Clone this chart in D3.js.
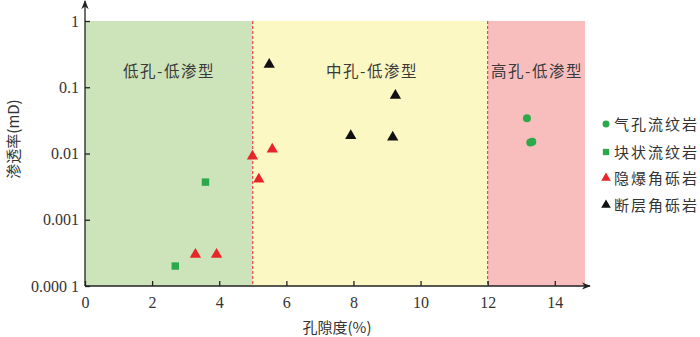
<!DOCTYPE html>
<html>
<head>
<meta charset="utf-8">
<script src="https://cdn.jsdelivr.net/npm/d3@7"></script>
<style>
  body { margin: 0; background: #fff; }
  text { font-family: "Liberation Serif", "Noto Sans CJK SC", serif; }
  .cjk { font-family: "Noto Sans CJK SC", sans-serif; }
</style>
</head>
<body>
<div id="chart"></div>
<script>
// porosity (%) vs permeability (mD) by rock type
const seriesNames = ["气孔流纹岩", "块状流纹岩", "隐爆角砾岩", "断层角砾岩"];
const seriesColors = ["#2ca94a", "#2ca94a", "#e8262a", "#111111"];
const seriesShapes = ["circle", "square", "triangle", "triangle"];

const vesicularRhyolite = [[13.17, 0.034], [13.27, 0.0146], [13.33, 0.015]];
const massiveRhyolite = [[2.69, 0.0002], [3.59, 0.0037]];
const cryptoBreccia = [[3.29, 0.0003], [3.92, 0.0003], [4.99, 0.0091], [5.18, 0.0041], [5.58, 0.0116]];
const faultBreccia = [[5.49, 0.22], [9.25, 0.075], [7.92, 0.0186], [9.17, 0.0176]];
const seriesData = [vesicularRhyolite, massiveRhyolite, cryptoBreccia, faultBreccia];

// porosity zones
const zoneBounds = [[0, 5], [5, 12], [12, 14.9]];
const zoneLabels = ["低孔-低渗型", "中孔-低渗型", "高孔-低渗型"];
const zoneColors = ["#cde3b9", "#fcf8c4", "#f8bebe"];

const xTicks = [0, 2, 4, 6, 8, 10, 12, 14];
const yTicks = [0.0001, 0.001, 0.01, 0.1, 1];
const yTickLabels = ["0.000 1", "0.001", "0.01", "0.1", "1"];

const width = 700, height = 337;
const margin = { left: 85, top: 21, bottom: 51 };

const svg = d3.select("#chart").append("svg")
  .attr("width", width)
  .attr("height", height);

const x = d3.scaleLinear().domain([0, 14.9]).range([margin.left, 585]);
const y = d3.scaleLog().domain([0.0001, 1]).range([height - margin.bottom, margin.top]);

// zone backgrounds
svg.append("g").selectAll("rect")
  .data(zoneBounds)
  .join("rect")
  .attr("x", d => x(d[0]))
  .attr("y", y(1))
  .attr("width", d => x(d[1]) - x(d[0]))
  .attr("height", y(0.0001) - y(1))
  .attr("fill", (d, i) => zoneColors[i]);

// dashed boundaries at 5 and 12
svg.append("g").selectAll("line")
  .data([5, 12])
  .join("line")
  .attr("x1", d => x(d)).attr("x2", d => x(d))
  .attr("y1", y(1)).attr("y2", y(0.0001))
  .attr("stroke", "#e8262a")
  .attr("stroke-width", 1)
  .attr("stroke-dasharray", "3,2");

// zone labels
svg.append("g").selectAll("text")
  .data(zoneBounds)
  .join("text")
  .attr("class", "cjk")
  .attr("x", (d, i) => [169, 372, 537][i])
  .attr("y", 77)
  .attr("text-anchor", "middle")
  .style("font-size", "15.5px")
  .style("letter-spacing", "1.5px")
  .attr("fill", "#3a3a3a")
  .text((d, i) => zoneLabels[i]);

// axes
const xAxis = d3.axisBottom(x).tickValues(xTicks).tickSizeInner(-5).tickSizeOuter(0).tickPadding(11);
const yAxis = d3.axisLeft(y).tickValues(yTicks).tickFormat((d, i) => yTickLabels[i])
  .tickSizeInner(-5).tickSizeOuter(0).tickPadding(6);

const gx = svg.append("g").attr("transform", `translate(0,${y(0.0001)})`).call(xAxis);
const gy = svg.append("g").attr("transform", `translate(${x(0)},0)`).call(yAxis);

[gx, gy].forEach(g => {
  g.select(".domain").remove();
  g.selectAll(".tick line").attr("stroke", "#222").attr("stroke-width", 1.3);
  g.selectAll(".tick text")
    .style("font-family", "Liberation Serif, serif")
    .style("font-size", "16px")
    .attr("fill", "#333");
});

// axis lines with arrows
svg.append("defs").append("marker")
  .attr("id", "arrow")
  .attr("viewBox", "0 0 10 10")
  .attr("refX", 9).attr("refY", 5)
  .attr("markerWidth", 7).attr("markerHeight", 7)
  .attr("orient", "auto")
  .append("path")
  .attr("d", "M0,1 L10,5 L0,9 L3,5 Z")
  .attr("fill", "#222");

svg.append("line")
  .attr("x1", x(0)).attr("x2", 590)
  .attr("y1", y(0.0001)).attr("y2", y(0.0001))
  .attr("stroke", "#222").attr("stroke-width", 1.3)
  .attr("marker-end", "url(#arrow)");

svg.append("line")
  .attr("x1", x(0)).attr("x2", x(0))
  .attr("y1", y(0.0001)).attr("y2", 1)
  .attr("stroke", "#222").attr("stroke-width", 1.3)
  .attr("marker-end", "url(#arrow)");

// axis titles
svg.append("text")
  .attr("class", "cjk")
  .attr("x", 337).attr("y", 333)
  .attr("text-anchor", "middle")
  .style("font-size", "15px")
  .attr("fill", "#333")
  .text("孔隙度(%)");

svg.append("text")
  .attr("class", "cjk")
  .attr("transform", "translate(19,139) rotate(-90)")
  .attr("text-anchor", "middle")
  .style("font-size", "15px")
  .attr("fill", "#333")
  .text("渗透率(mD)");

// marker shapes
const symbolFor = {
  circle: d3.symbol().type(d3.symbolCircle).size(50),
  square: d3.symbol().type(d3.symbolSquare).size(55),
  triangle: d3.symbol().type(d3.symbolTriangle).size(55)
};

seriesData.forEach((pts, i) => {
  svg.append("g").selectAll("path")
    .data(pts)
    .join("path")
    .attr("transform", d => `translate(${x(d[0])},${y(d[1])})`)
    .attr("d", symbolFor[seriesShapes[i]]())
    .attr("fill", seriesColors[i]);
});

// legend
const legend = svg.append("g");
const legendY = [124, 152, 178, 205];
seriesNames.forEach((name, i) => {
  const sz = seriesShapes[i] === "circle" ? 38 : 40;
  const sym = d3.symbol().type(
    seriesShapes[i] === "circle" ? d3.symbolCircle :
    seriesShapes[i] === "square" ? d3.symbolSquare : d3.symbolTriangle).size(sz);
  legend.append("path")
    .attr("transform", `translate(606,${legendY[i]})`)
    .attr("d", sym())
    .attr("fill", seriesColors[i]);
  legend.append("text")
    .attr("class", "cjk")
    .attr("x", 614).attr("y", legendY[i] + 6)
    .style("font-size", "15px")
    .attr("textLength", 83)
    .attr("lengthAdjust", "spacing")
    .attr("fill", "#333")
    .text(name);
});
</script>
</body>
</html>
